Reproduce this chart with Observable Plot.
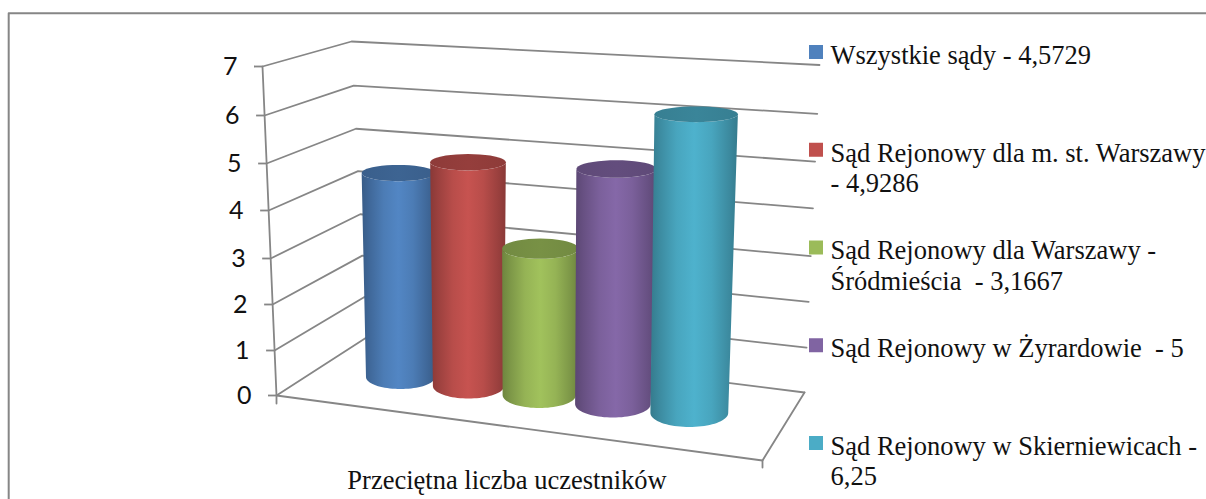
<!DOCTYPE html>
<html><head><meta charset="utf-8">
<style>html,body{margin:0;padding:0;background:#fff}svg{display:block}</style>
<script src="https://cdn.jsdelivr.net/npm/d3@7"></script>
<script src="https://cdn.jsdelivr.net/npm/@observablehq/plot@0.6"></script>
</head><body><div id="chart"></div>
<script>
// ---- data ----
const courts = ["Wszystkie sądy","Sąd Rejonowy dla m. st. Warszawy","Sąd Rejonowy dla Warszawy - Śródmieścia","Sąd Rejonowy w Żyrardowie","Sąd Rejonowy w Skierniewicach"];
const values = [4.5729, 4.9286, 3.1667, 5, 6.25];
const legendLabels = ["Wszystkie sądy - 4,5729","Sąd Rejonowy dla m. st. Warszawy\n- 4,9286","Sąd Rejonowy dla Warszawy -\nŚródmieścia  - 3,1667","Sąd Rejonowy w Żyrardowie  - 5","Sąd Rejonowy w Skierniewicach -\n6,25"];
const axisTicks = [0,1,2,3,4,5,6,7];
const categoryLabel = "Przeciętna liczba uczestników";

// ---- style ----
const palette = ["#4f81bd","#c0504d","#9bbb59","#8064a2","#4bacc6"];
const gridColor = "#868686";
const serif = "'Liberation Serif', serif";

// ---- the tilted 3D frame, as seen on the page ----
const tickPx = [395,350,304,258,210,163,115,66];           // perspective makes the wall uneven
const yPix = d3.scaleLinear().domain(axisTicks).range(tickPx);
const warp = v => (395 - yPix(v)) / (395 - 66) * 7;        // y scale transform
const Y = px => yPix.invert(px);                           // page pixel -> y units
const T = v => warp(v) / 7;                                // share of wall height
const lerp = (a,b,t) => a + (b-a)*t;
const edge = (bottom, top) => v => [lerp(bottom[0],top[0],T(v)), Y(lerp(bottom[1],top[1],T(v)))];
const frontLeft = edge([276,395],[262,66]);
const backLeft  = edge([366,337],[351,41]);
const backRight = edge([804,392],[819,64.5]);
const pt = ([x,y]) => ({x,y});

const grid = axisTicks.flatMap(v => [backRight(v), backLeft(v), frontLeft(v)].map(p => ({...pt(p), v})));
const floorEdge = [pt(frontLeft(0)), {x:762,y:Y(460)}, pt(backRight(0))];
const axisLine = [pt(frontLeft(7)), pt(frontLeft(0)), {x:frontLeft(0)[0], y:Y(403)}];
const floorTick = [{x:762,y:Y(460)},{x:762,y:Y(467)}];
const border = [{x:1206,y:Y(12.7)},{x:8.2,y:Y(12.7)},{x:8.2,y:Y(499)}];

// cylinder geometry along the category axis
function cylinder(v, i) {
  const bx = 400 + 66.6*i + 1.4*i*i, by = 376.5 + 9*i, rx0 = 34.5 + 1.1*i, ry0 = 12 + 0.5*i;
  const unit = 44.6 + 0.8*i, lean = -0.5 + 0.4*i;
  const tx = bx + lean*v, ty = by - unit*v, rxT = rx0 + 0.45*v, ryT = ry0*(1 - 0.07*v);
  const arc = (cx,cy,rx,ry,a0,a1) => d3.range(41).map(k => {
    const a = lerp(a0,a1,k/40);
    return {x:cx + rx*Math.cos(a), y:Y(cy + ry*Math.sin(a))};
  });
  const body = [...arc(bx,by,rx0,ry0,Math.PI,0), ...arc(tx,ty,rxT,ryT,0,Math.PI)];
  const cap = arc(tx,ty,rxT,ryT,0,2*Math.PI);
  return {body, cap};
}
const cylinders = values.map(cylinder);

const gradients = () => {
  const defs = d3.create("svg:defs");
  palette.forEach((c,i) => {
    const add = (id, stops) => {
      const g = defs.append("linearGradient").attr("id",id).attr("x1",0).attr("x2",1).attr("y1",0).attr("y2",0);
      stops.forEach(([o,k]) => g.append("stop").attr("offset",o).attr("stop-color", d3.rgb(c).darker(k).formatHex()));
    };
    add("body"+i, [[0,0.95],[0.1,0.62],[0.3,0.12],[0.5,-0.1],[0.7,0.12],[0.9,0.62],[1,0.95]]);
    add("cap"+i, [[0,0.85],[0.5,0.72],[1,0.85]]);
  });
  return defs.node();
};

const legendY = i => 52 + 97.75*i;

const chart = Plot.plot({
  width:1206, height:499, margin:0,
  style:{background:"#fff"},
  x:{domain:[0,1206], range:[0,1206], axis:null},
  y:{domain:[0,7], range:[395,66], transform:warp, axis:null},
  marks:[
    gradients,
    Plot.line(border,{x:"x",y:"y",stroke:gridColor,strokeWidth:2}),
    Plot.line(grid,{x:"x",y:"y",z:"v",stroke:gridColor,strokeWidth:1.8}),
    Plot.line(floorEdge,{x:"x",y:"y",stroke:gridColor,strokeWidth:1.8}),
    Plot.line(floorTick,{x:"x",y:"y",stroke:gridColor,strokeWidth:1.8}),
    Plot.line(axisLine,{x:"x",y:"y",stroke:gridColor,strokeWidth:1.8}),
    Plot.axisY(axisTicks,{
      x:v => frontLeft(v)[0], anchor:"left", label:null, tickSize:8, tickPadding:17,
      stroke:gridColor, strokeWidth:1.8, fill:"#111",
      fontFamily:"Lato", fontSize:25, tickFormat:d => String(d)
    }),
    ...cylinders.flatMap((c,i) => [
      Plot.line(c.body,{x:"x",y:"y",fill:`url(#body${i})`,stroke:"none"}),
      Plot.line(c.cap,{x:"x",y:"y",fill:`url(#cap${i})`,stroke:"none"})
    ]),
    Plot.rect(courts,{
      x1:() => 809, x2:() => 823,
      y1:(d,i) => Y(legendY(i)-7), y2:(d,i) => Y(legendY(i)+7),
      fill:(d,i) => palette[i]
    }),
    Plot.text(legendLabels,{
      x:() => 830, y:(d,i) => Y(legendY(i)-10), text:d => d,
      textAnchor:"start", lineAnchor:"top", lineHeight:1.14,
      fontFamily:serif, fontSize:26.5, fill:"#111"
    }),
    Plot.text([categoryLabel],{
      x:() => 506.5, y:() => Y(488), text:d => d, lineAnchor:"bottom",
      fontFamily:serif, fontSize:26.5, fill:"#111"
    })
  ]
});
document.getElementById("chart").append(chart);
</script></body></html>
